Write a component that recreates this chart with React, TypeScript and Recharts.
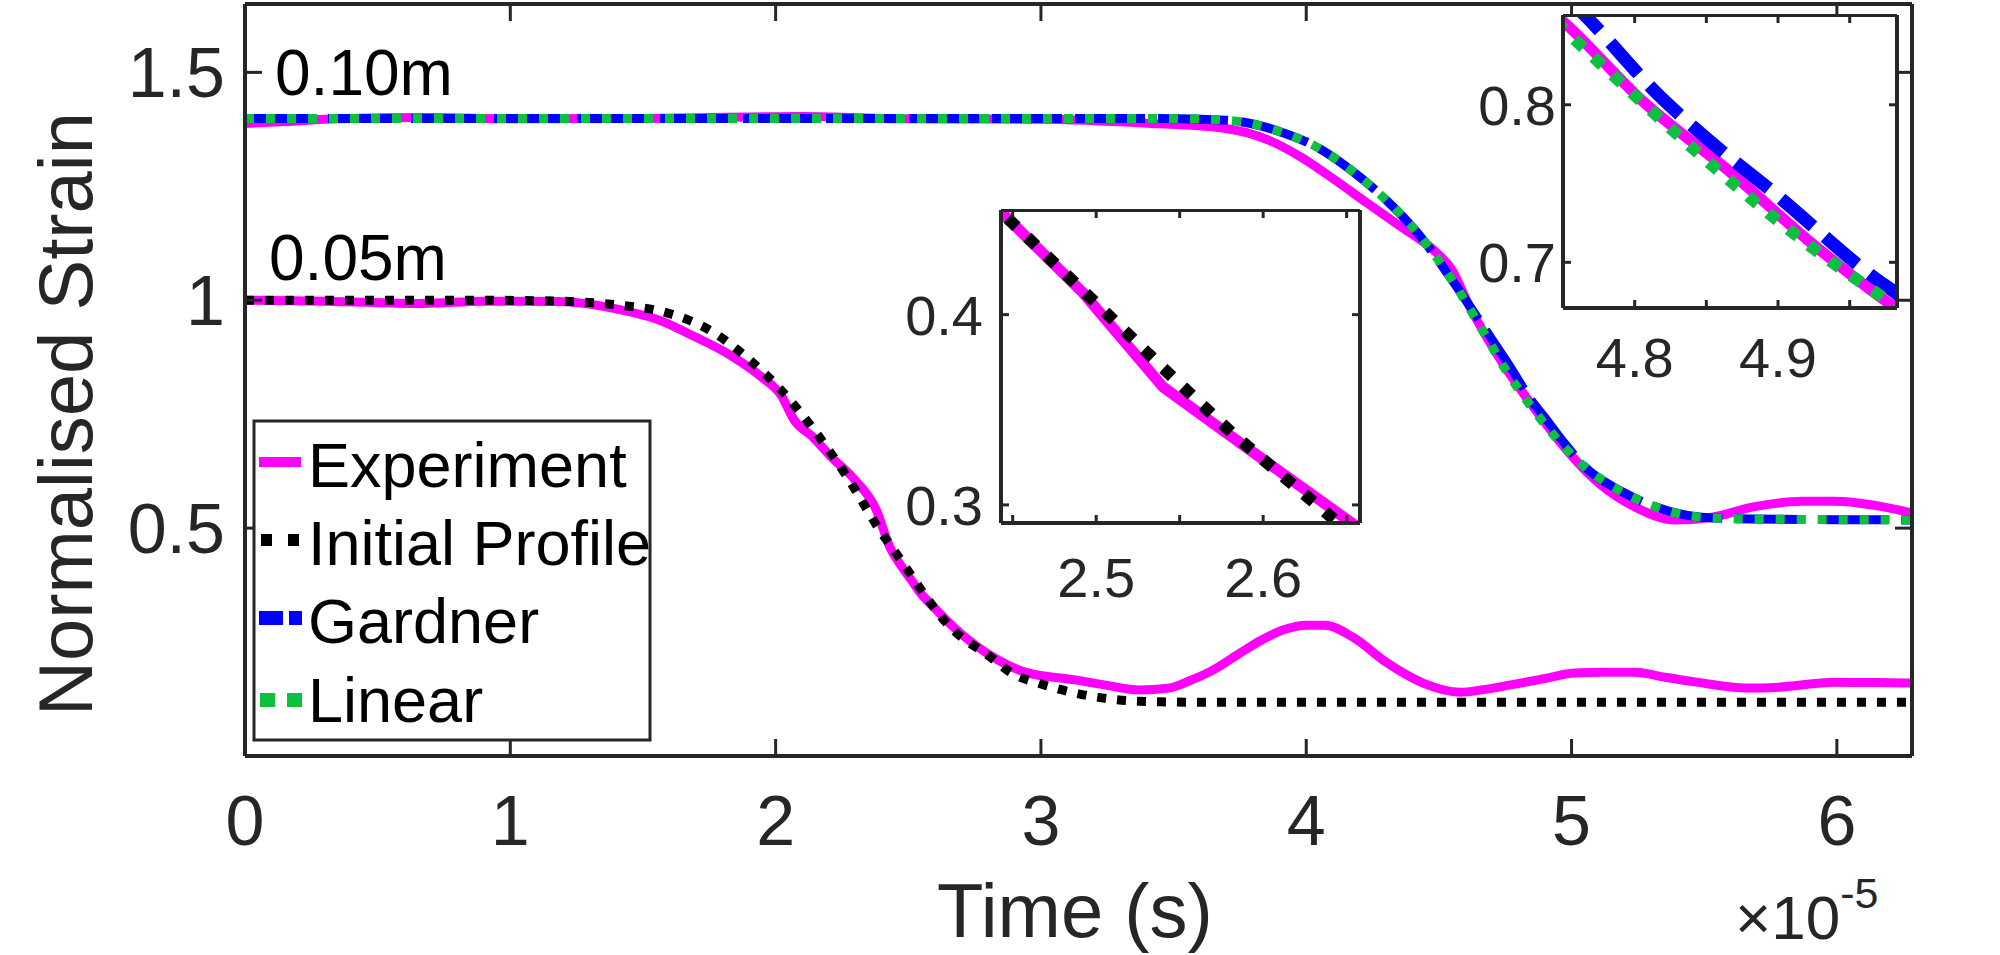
import React from 'react';
import { LineChart, Line, XAxis, YAxis, CartesianGrid } from 'recharts';

const FONT = '"Liberation Sans", Arial, Helvetica, sans-serif';
const AXIS = '#262626';
const MAGENTA = '#ff00ff';
const BLUE = '#0000ff';
const GREEN = '#0cc13f';

// ---- main axes (time in units of 1e-5 s) ----
const xTicks = [0, 1, 2, 3, 4, 5, 6];
const yTicks = [0.5, 1, 1.5];

// 0.05m probe: experiment
const exp05Time = [0, 0.3, 0.67, 0.9, 1.18, 1.39, 1.58, 1.67, 1.83, 1.95, 2.02, 2.07, 2.14, 2.21, 2.3, 2.38, 2.43, 2.47, 2.52, 2.54, 2.595, 2.67, 2.76, 2.84, 2.94, 3.13, 3.25, 3.37, 3.48, 3.56, 3.65, 3.74, 3.83, 3.92, 4.0, 4.07, 4.18, 4.3, 4.44, 4.58, 4.66, 4.77, 4.9, 5.01, 5.12, 5.24, 5.35, 5.47, 5.66, 5.78, 5.99, 6.15, 6.283];
const exp05Strain = [1.0, 0.998, 0.993, 0.998, 0.997, 0.982, 0.952, 0.927, 0.879, 0.83, 0.792, 0.737, 0.7, 0.656, 0.605, 0.539, 0.459, 0.42, 0.379, 0.362, 0.327, 0.283, 0.24, 0.21, 0.184, 0.167, 0.155, 0.145, 0.149, 0.165, 0.189, 0.222, 0.254, 0.278, 0.287, 0.287, 0.259, 0.206, 0.16, 0.14, 0.145, 0.156, 0.17, 0.182, 0.184, 0.184, 0.173, 0.162, 0.149, 0.151, 0.162, 0.161, 0.16];

// 0.05m probe: initial profile
const init05Time = [0, 0.887, 1.18, 1.415, 1.58, 1.77, 1.89, 2.02, 2.145, 2.27, 2.4, 2.443, 2.507, 2.54, 2.581, 2.645, 2.81, 2.89, 3.0, 3.13, 3.25, 3.37, 3.6, 6.283];
const init05Strain = [1.0, 1.0, 0.998, 0.989, 0.974, 0.928, 0.875, 0.803, 0.715, 0.612, 0.489, 0.454, 0.4, 0.372, 0.338, 0.291, 0.217, 0.182, 0.158, 0.138, 0.126, 0.12, 0.118, 0.118];

// 0.10m probe: experiment
const exp10Time = [0, 0.15, 0.35, 0.7, 1.0, 1.5, 2.1, 2.5, 3.0, 3.415, 3.67, 3.86, 3.98, 4.11, 4.23, 4.36, 4.48, 4.55, 4.61, 4.75, 4.867, 4.982, 5.11, 5.24, 5.39, 5.53, 5.68, 5.87, 5.99, 6.18, 6.283];
const exp10Strain = [1.388, 1.392, 1.398, 1.401, 1.398, 1.399, 1.403, 1.398, 1.397, 1.388, 1.379, 1.351, 1.314, 1.263, 1.213, 1.16, 1.11, 1.066, 0.993, 0.853, 0.757, 0.671, 0.595, 0.546, 0.518, 0.524, 0.546, 0.559, 0.559, 0.546, 0.533];

// 0.10m probe: Gardner
const gard10Time = [0, 3.45, 3.7, 3.92, 4.04, 4.17, 4.29, 4.42, 4.55, 4.67, 4.765, 4.851, 4.896, 4.972, 5.05, 5.18, 5.28, 5.49, 5.68, 6.283];
const gard10Strain = [1.399, 1.399, 1.395, 1.366, 1.336, 1.285, 1.226, 1.147, 1.044, 0.94, 0.857, 0.778, 0.745, 0.687, 0.634, 0.583, 0.555, 0.524, 0.52, 0.518];

// 0.10m probe: linear
const lin10Time = [0, 3.45, 3.7, 3.92, 4.04, 4.17, 4.29, 4.42, 4.55, 4.67, 4.753, 4.846, 4.979, 5.05, 5.18, 5.28, 5.49, 5.68, 6.283];
const lin10Strain = [1.399, 1.399, 1.395, 1.366, 1.336, 1.285, 1.226, 1.147, 1.044, 0.928, 0.846, 0.768, 0.674, 0.634, 0.583, 0.555, 0.524, 0.52, 0.518];

// ---- inset 1 (0.05m drop) ----
const in1XTicks = [2.45, 2.5, 2.55, 2.6, 2.65];
const in1YTicks = [0.3, 0.4];
const in1ExpTime = [2.435, 2.443, 2.492, 2.54, 2.595, 2.653, 2.665];
const in1ExpStrain = [0.459, 0.454, 0.4116, 0.362, 0.327, 0.2905, 0.283];
const in1InitTime = [2.435, 2.443, 2.507, 2.54, 2.581, 2.645, 2.655];
const in1InitStrain = [0.46, 0.454, 0.4, 0.372, 0.338, 0.2905, 0.284];

// ---- inset 2 (0.10m drop) ----
const in2XTicks = [4.8, 4.85, 4.9, 4.95];
const in2YTicks = [0.7, 0.8];
const in2ExpTime = [4.745, 4.75, 4.806, 4.867, 4.925, 4.982, 4.99];
const in2ExpStrain = [0.857, 0.853, 0.802, 0.757, 0.711, 0.671, 0.666];
const in2GardTime = [4.755, 4.765, 4.818, 4.851, 4.896, 4.972, 4.983, 4.99];
const in2GardStrain = [0.866, 0.857, 0.805, 0.778, 0.745, 0.687, 0.68, 0.674];
const in2LinTime = [4.745, 4.753, 4.8, 4.846, 4.92, 4.979, 4.99];
const in2LinStrain = [0.853, 0.846, 0.806, 0.768, 0.712, 0.674, 0.667];

const toPoints = (ts: number[], vs: number[]) => ts.map((t, i) => ({ t, v: vs[i] }));

const blank = () => '';

type SeriesDef = {
  data: { t: number; v: number }[];
  color: string;
  width: number;
  dash?: string;
  curve?: 'monotone' | 'linear';
};

const renderLines = (series: SeriesDef[]) =>
  series.map((s, i) => (
    <Line
      key={i}
      data={s.data}
      dataKey="v"
      type={s.curve || 'monotone'}
      stroke={s.color}
      strokeWidth={s.width}
      strokeDasharray={s.dash}
      strokeLinejoin="round"
      dot={false}
      activeDot={false}
      isAnimationActive={false}
    />
  ));

type InsetProps = {
  left: number;
  top: number;
  plotW: number;
  plotH: number;
  xDomain: [number, number];
  yDomain: [number, number];
  xTicks: number[];
  yTicks: number[];
  xLabel: (v: number) => string;
  yTickMargin: number;
  xTickMargin: number;
  series: SeriesDef[];
};

const Inset: React.FC<InsetProps> = (p) => {
  const lw = 110;
  const bh = 100;
  const axisLine = { stroke: AXIS, strokeWidth: 4 };
  const tickLine = { stroke: AXIS, strokeWidth: 3 };
  const tick = { fill: AXIS, fontSize: 56, fontFamily: FONT };
  return (
    <div style={{ position: 'absolute', left: p.left - lw, top: p.top - 1 }}>
      <LineChart width={lw + p.plotW + 10} height={p.plotH + bh + 1} margin={{ top: 0, right: 0, bottom: 0, left: 0 }}>
        <CartesianGrid horizontal={false} vertical={false} fill="#ffffff" fillOpacity={1} />
        <XAxis dataKey="t" type="number" domain={p.xDomain} ticks={p.xTicks} interval={0} allowDataOverflow
          height={bh} tickSize={-8} tickMargin={p.xTickMargin} tickFormatter={p.xLabel}
          axisLine={axisLine} tickLine={tickLine} tick={tick} />
        <XAxis xAxisId="top" orientation="top" dataKey="t" type="number" domain={p.xDomain} ticks={p.xTicks} interval={0}
          allowDataOverflow height={1} tickSize={-8} tickFormatter={blank} axisLine={axisLine} tickLine={tickLine} tick={tick} />
        <YAxis type="number" domain={p.yDomain} ticks={p.yTicks} interval={0} allowDataOverflow width={lw}
          tickSize={-8} tickMargin={p.yTickMargin} axisLine={axisLine} tickLine={tickLine} tick={tick} />
        <YAxis yAxisId="right" orientation="right" type="number" domain={p.yDomain} ticks={p.yTicks} interval={0}
          allowDataOverflow width={10} tickSize={-8} tickFormatter={blank} axisLine={axisLine} tickLine={tickLine} tick={tick} />
        {renderLines(p.series)}
      </LineChart>
    </div>
  );
};

const App: React.FC = () => {
  const axisLine = { stroke: AXIS, strokeWidth: 4 };
  const tickLine = { stroke: AXIS, strokeWidth: 3 };
  const tick = { fill: AXIS, fontSize: 70, fontFamily: FONT };

  const mainSeries: SeriesDef[] = [
    { data: toPoints(exp05Time, exp05Strain), color: MAGENTA, width: 9 },
    { data: toPoints(init05Time, init05Strain), color: '#000000', width: 9, dash: '9 11' },
    { data: toPoints(exp10Time, exp10Strain), color: MAGENTA, width: 9 },
    { data: toPoints(gard10Time, gard10Strain), color: BLUE, width: 9, dash: '70 13' },
    { data: toPoints(lin10Time, lin10Strain), color: GREEN, width: 9, dash: '9 12' },
  ];

  return (
    <div style={{ position: 'absolute', left: 0, top: 0, width: 2000, height: 955, background: '#fff', fontFamily: FONT }}>
      <LineChart width={2000} height={955} margin={{ top: 3, right: 0, bottom: 0, left: 0 }}>
        <XAxis dataKey="t" type="number" domain={[0, 6.2832]} ticks={xTicks} interval={0} allowDataOverflow
          height={199} tickSize={-17} tickMargin={56} axisLine={axisLine} tickLine={tickLine} tick={tick} />
        <XAxis xAxisId="top" orientation="top" dataKey="t" type="number" domain={[0, 6.2832]} ticks={xTicks} interval={0}
          allowDataOverflow height={1} tickSize={-17} tickFormatter={blank} axisLine={axisLine} tickLine={tickLine} tick={tick} />
        <YAxis type="number" domain={[0, 1.65]} ticks={yTicks} interval={0} allowDataOverflow width={245}
          tickSize={-17} tickMargin={37} axisLine={axisLine} tickLine={tickLine} tick={tick} />
        <YAxis yAxisId="right" orientation="right" type="number" domain={[0, 1.65]} ticks={yTicks} interval={0}
          allowDataOverflow width={88} tickSize={-17} tickFormatter={blank} axisLine={axisLine} tickLine={tickLine} tick={tick} />
        {renderLines(mainSeries)}
      </LineChart>

      <Inset
        left={1001}
        top={210}
        plotW={359}
        plotH={313}
        xDomain={[2.443, 2.658]}
        yDomain={[0.2905, 0.455]}
        xTicks={in1XTicks}
        yTicks={in1YTicks}
        xLabel={(v) => (Math.abs(v - 2.5) < 1e-6 || Math.abs(v - 2.6) < 1e-6 ? v.toFixed(1) : '')}
        yTickMargin={26}
        xTickMargin={42}
        series={[
          { data: toPoints(in1ExpTime, in1ExpStrain), color: MAGENTA, width: 11, curve: 'linear' },
          { data: toPoints(in1InitTime, in1InitStrain), color: '#000000', width: 12, dash: '12 15', curve: 'linear' },
        ]}
      />

      <Inset
        left={1563}
        top={15}
        plotW={334}
        plotH={293}
        xDomain={[4.75, 4.983]}
        yDomain={[0.671, 0.857]}
        xTicks={in2XTicks}
        yTicks={in2YTicks}
        xLabel={(v) => (Math.abs(v - 4.8) < 1e-6 || Math.abs(v - 4.9) < 1e-6 ? v.toFixed(1) : '')}
        yTickMargin={15}
        xTickMargin={37}
        series={[
          { data: toPoints(in2ExpTime, in2ExpStrain), color: MAGENTA, width: 11 },
          { data: toPoints(in2GardTime, in2GardStrain), color: BLUE, width: 13, dash: '42 16' },
          { data: toPoints(in2LinTime, in2LinStrain), color: GREEN, width: 12, dash: '12 14' },
        ]}
      />

      <svg width={2000} height={955} style={{ position: 'absolute', left: 0, top: 0, pointerEvents: 'none' }}>
        {/* axis titles and probe labels */}
        <text x={92} y={414} transform="rotate(-90 92 414)" textAnchor="middle" fontSize={76} fill={AXIS} fontFamily={FONT}>
          Normalised Strain
        </text>
        <text x={1075} y={937} textAnchor="middle" fontSize={76} fill={AXIS} fontFamily={FONT}>
          Time (s)
        </text>
        <text x={1735} y={939} fontSize={62} fill={AXIS} fontFamily={FONT}>
          ×10<tspan fontSize={43} dy={-31}>-5</tspan>
        </text>
        <text x={275} y={95} fontSize={64} fill="#000" fontFamily={FONT}>0.10m</text>
        <text x={269} y={280} fontSize={64} fill="#000" fontFamily={FONT}>0.05m</text>

        {/* legend */}
        <rect x={254} y={421} width={396} height={319} fill="#fff" stroke={AXIS} strokeWidth={3} />
        <line x1={259} x2={301} y1={462} y2={462} stroke={MAGENTA} strokeWidth={10} />
        <line x1={261} x2={299} y1={540} y2={540} stroke="#000" strokeWidth={12} strokeDasharray="11 16" />
        <line x1={259} x2={302} y1={618} y2={618} stroke={BLUE} strokeWidth={14} strokeDasharray="24 6 13 40" />
        <line x1={260} x2={302} y1={700} y2={700} stroke={GREEN} strokeWidth={14} strokeDasharray="15 12" />
        <text x={308} y={487} fontSize={63} fill="#000" fontFamily={FONT}>Experiment</text>
        <text x={308} y={565} fontSize={63} fill="#000" fontFamily={FONT}>Initial Profile</text>
        <text x={308} y={643} fontSize={63} fill="#000" fontFamily={FONT}>Gardner</text>
        <text x={308} y={722} fontSize={63} fill="#000" fontFamily={FONT}>Linear</text>
      </svg>
    </div>
  );
};

export default App;
